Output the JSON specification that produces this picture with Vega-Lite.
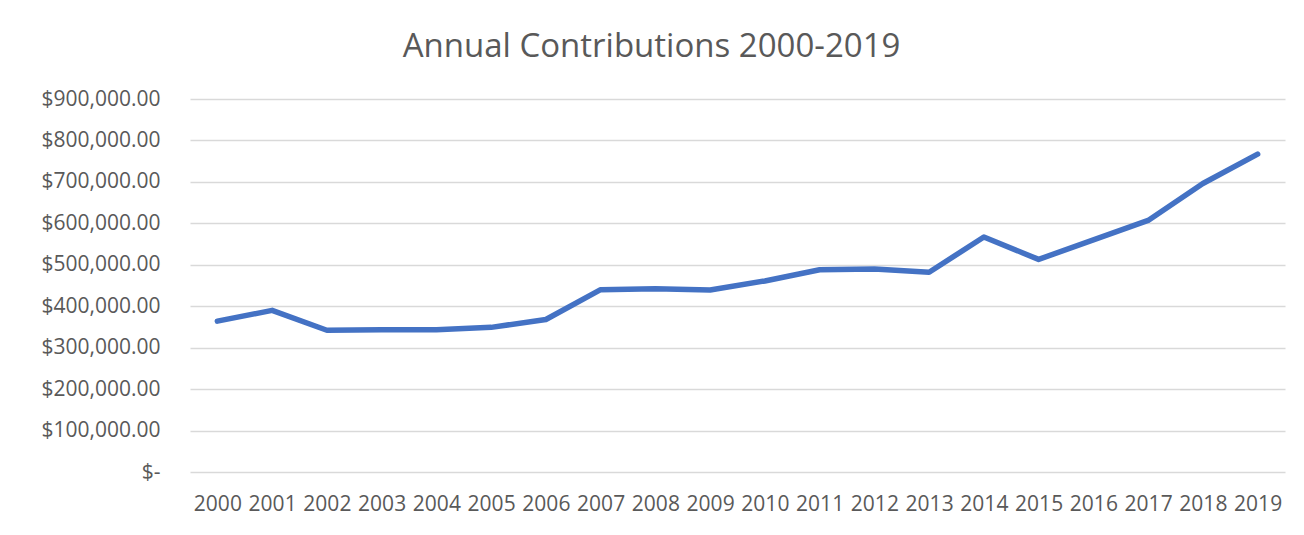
{
  "$schema": "https://vega.github.io/schema/vega-lite/v6.json",
  "autosize": {"type": "none"},
  "width": 1095,
  "height": 373,
  "padding": {"left": 190, "top": 99, "right": 19, "bottom": 63},
  "background": "white",
  "title": {
    "text": "Annual Contributions 2000-2019",
    "font": "Open Sans",
    "fontSize": 33,
    "fontWeight": "normal",
    "color": "#595959",
    "anchor": "middle",
    "dx": -86,
    "offset": 24
  },
  "data": {
    "values": [
      {"year": "2000", "amount": 364000},
      {"year": "2001", "amount": 390000},
      {"year": "2002", "amount": 342000},
      {"year": "2003", "amount": 343000},
      {"year": "2004", "amount": 343500},
      {"year": "2005", "amount": 349000},
      {"year": "2006", "amount": 368000},
      {"year": "2007", "amount": 440000},
      {"year": "2008", "amount": 442000},
      {"year": "2009", "amount": 439000},
      {"year": "2010", "amount": 461000},
      {"year": "2011", "amount": 488000},
      {"year": "2012", "amount": 490000},
      {"year": "2013", "amount": 482000},
      {"year": "2014", "amount": 567000},
      {"year": "2015", "amount": 513000},
      {"year": "2016", "amount": 560000},
      {"year": "2017", "amount": 607000},
      {"year": "2018", "amount": 696000},
      {"year": "2019", "amount": 767000}
    ]
  },
  "mark": {"type": "line", "color": "#4472C4", "strokeWidth": 5.5, "strokeCap": "round", "strokeJoin": "round"},
  "encoding": {
    "x": {
      "field": "year",
      "type": "ordinal",
      "scale": {"type": "point", "padding": 0.5},
      "axis": {
        "title": null,
        "labelAngle": 0,
        "labelOverlap": false,
        "labelFont": "Open Sans",
        "labelFontSize": 21,
        "labelColor": "#595959",
        "labelPadding": 21,
        "ticks": false,
        "tickSize": 0,
        "domain": false,
        "grid": false
      }
    },
    "y": {
      "field": "amount",
      "type": "quantitative",
      "scale": {"domain": [0, 900000], "nice": false},
      "axis": {
        "title": null,
        "values": [0, 100000, 200000, 300000, 400000, 500000, 600000, 700000, 800000, 900000],
        "labelExpr": "datum.value == 0 ? '$-\u00a0\u00a0' : '$' + format(datum.value, ',.2f')",
        "labelFont": "Open Sans",
        "labelFontSize": 21,
        "labelColor": "#595959",
        "labelPadding": 30,
        "ticks": false,
        "tickSize": 0,
        "domain": false,
        "grid": true,
        "gridColor": "#d9d9d9",
        "gridWidth": 1.5
      }
    }
  },
  "config": {"view": {"stroke": null}}
}
